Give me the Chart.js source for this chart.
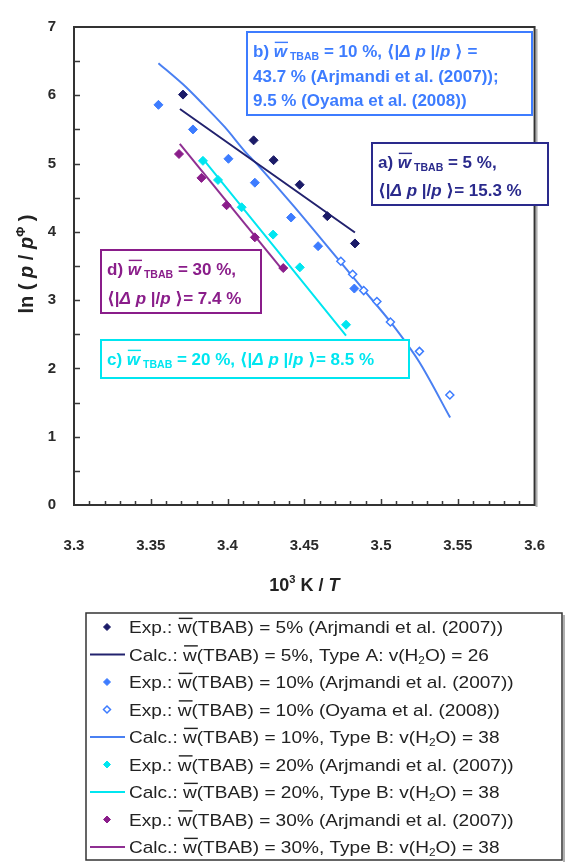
<!DOCTYPE html>
<html>
<head>
<meta charset="utf-8">
<script src="https://cdn.jsdelivr.net/npm/chart.js@4.4.0/dist/chart.umd.min.js"></script>
<style>
html, body { margin: 0; padding: 0; background: #fff; }
#chart { display: block; }
</style>
</head>
<body>
<canvas id="chart" width="577" height="863"></canvas>
<script>
// values: x = 10^3 K / T, y = ln(p / p0)
const exp5X = [3.371, 3.417, 3.430, 3.447, 3.465, 3.483];
const exp5Y = [6.01, 5.34, 5.05, 4.69, 4.23, 3.83];
const calc5X = [3.369, 3.483];
const calc5Y = [5.80, 3.99];

const exp10X = [3.355, 3.3775, 3.4006, 3.4178, 3.4414, 3.459, 3.4826];
const exp10Y = [5.86, 5.50, 5.07, 4.72, 4.21, 3.79, 3.17];
const oya10X = [3.4738, 3.4815, 3.4887, 3.4973, 3.5061, 3.525, 3.5448];
const oya10Y = [3.57, 3.38, 3.14, 2.98, 2.68, 2.25, 1.61];
const calc10X = [3.355, 3.371, 3.384, 3.398, 3.412, 3.4205, 3.443, 3.472, 3.488, 3.5065, 3.525, 3.545];
const calc10Y = [6.47, 6.16, 5.87, 5.54, 5.16, 4.96, 4.38, 3.60, 3.17, 2.67, 2.09, 1.28];

const exp20X = [3.384, 3.3938, 3.4092, 3.4297, 3.4471, 3.4772];
const exp20Y = [5.04, 4.76, 4.36, 3.96, 3.48, 2.64];
const calc20X = [3.384, 3.4772];
const calc20Y = [5.07, 2.48];

const exp30X = [3.3684, 3.383, 3.3994, 3.4178, 3.4363];
const exp30Y = [5.14, 4.79, 4.39, 3.92, 3.47];
const calc30X = [3.3689, 3.4363];
const calc30Y = [5.29, 3.43];

const xTickVals = [3.3, 3.35, 3.4, 3.45, 3.5, 3.55, 3.6];
const xTickLabels = ['3.3', '3.35', '3.4', '3.45', '3.5', '3.55', '3.6'];
const yTickVals = [0, 1, 2, 3, 4, 5, 6, 7];
const yTickLabels = ['0', '1', '2', '3', '4', '5', '6', '7'];

const NAVY = '#1b1b68';
const NAVY_LINE = '#22226e';
const BLUE = '#3d7cff';
const BLUE_LINE = '#4a80f2';
const CYAN = '#00e6f0';
const PURPLE = '#8a1d8a';
const PURPLE_LINE = '#8f2f92';
const FONT = '"Liberation Sans", Arial, "DejaVu Sans", sans-serif';

const mk = (xs, ys) => xs.map((x, i) => ({ x: x, y: ys[i] }));

function expSet(label, xs, ys, color, open) {
    return {
        label: label,
        data: mk(xs, ys),
        showLine: false,
        pointStyle: 'rectRot',
        pointRadius: open ? 4 : 4.5,
        pointHoverRadius: 4.5,
        borderWidth: open ? 1.5 : 1,
        borderColor: color,
        backgroundColor: open ? '#fff' : color,
    };
}

function calcSet(label, xs, ys, color) {
    return {
        label: label,
        data: mk(xs, ys),
        showLine: true,
        pointRadius: 0,
        borderWidth: 2,
        borderColor: color,
        backgroundColor: color,
        tension: 0.3,
    };
}

const datasets = [
    expSet('Exp.: w(TBAB) = 5% (Arjmandi et al. (2007))', exp5X, exp5Y, NAVY),
    calcSet('Calc.: w(TBAB) = 5%, Type A: v(H2O) = 26', calc5X, calc5Y, NAVY_LINE),
    expSet('Exp.: w(TBAB) = 10% (Arjmandi et al. (2007))', exp10X, exp10Y, BLUE),
    expSet('Exp.: w(TBAB) = 10% (Oyama et al. (2008))', oya10X, oya10Y, BLUE, true),
    calcSet('Calc.: w(TBAB) = 10%, Type B: v(H2O) = 38', calc10X, calc10Y, BLUE_LINE),
    expSet('Exp.: w(TBAB) = 20% (Arjmandi et al. (2007))', exp20X, exp20Y, CYAN),
    calcSet('Calc.: w(TBAB) = 20%, Type B: v(H2O) = 38', calc20X, calc20Y, CYAN),
    expSet('Exp.: w(TBAB) = 30% (Arjmandi et al. (2007))', exp30X, exp30Y, PURPLE),
    calcSet('Calc.: w(TBAB) = 30%, Type B: v(H2O) = 38', calc30X, calc30Y, PURPLE_LINE),
];

// text pieces on one row; style words: i, sub, sup, over
function runFont(st, fs, bold) {
    return (st.includes('i') ? 'italic ' : '') + (bold ? 'bold ' : '') + fs + 'px ' + FONT;
}

function runStyle(r, size) {
    const t = typeof r === 'string' ? r : r[0];
    const st = typeof r === 'string' ? [] : r[1].split(' ');
    let fs = size, dy = 0;
    if (st.includes('sub')) { fs = size * 0.62; dy = size * 0.2; }
    if (st.includes('sup')) { fs = size * 0.62; dy = -size * 0.42; }
    return { t, st, fs, dy };
}

function runsWidth(ctx, runs, size, bold, sx) {
    let w = 0;
    ctx.save();
    for (const r of runs) {
        const s = runStyle(r, size);
        ctx.font = runFont(s.st, s.fs, bold);
        w += ctx.measureText(s.t).width;
    }
    ctx.restore();
    return w * (sx || 1);
}

function drawRuns(ctx, runs, x, y, size, color, bold, sx) {
    ctx.save();
    ctx.translate(x, y);
    ctx.scale(sx || 1, 1);
    ctx.textBaseline = 'alphabetic';
    ctx.textAlign = 'left';
    ctx.fillStyle = color;
    ctx.strokeStyle = color;
    let cx = 0;
    for (const r of runs) {
        const s = runStyle(r, size);
        ctx.font = runFont(s.st, s.fs, bold);
        ctx.fillText(s.t, cx, s.dy);
        const w = ctx.measureText(s.t).width;
        if (s.st.includes('over')) {
            ctx.lineWidth = Math.max(1, size / 12);
            ctx.beginPath();
            ctx.moveTo(cx + 1, -size * 0.86);
            ctx.lineTo(cx + w + 1, -size * 0.86);
            ctx.stroke();
        }
        cx += w;
    }
    ctx.restore();
}

function labelRuns(label) {
    const k = label.indexOf('w(');
    const rest = label.slice(k + 1);
    const runs = [label.slice(0, k), ['w', 'over']];
    const h = rest.indexOf('H2O');
    if (h < 0) {
        runs.push(rest);
    } else {
        runs.push(rest.slice(0, h + 1), ['2', 'sub'], rest.slice(h + 2));
    }
    return runs;
}

const wRuns = (pre) => [pre, ['w', 'i over'], [' TBAB', 'sub']];
const dpRuns = ['\u27e8|', ['\u0394 p', 'i'], ' |/', ['p', 'i'], ' \u27e9'];

const boxes = [
    { x: 247, y: 32, w: 285, h: 83, color: BLUE, lines: [
        wRuns('b) ').concat([' = 10 %, '], dpRuns, [' =']),
        ['43.7 % (Arjmandi et al. (2007));'],
        ['9.5 % (Oyama et al. (2008))'] ] },
    { x: 372, y: 143, w: 176, h: 62, color: '#2a2a8c', lines: [
        wRuns('a) ').concat([' = 5 %,']),
        dpRuns.concat(['= 15.3 %']) ] },
    { x: 101, y: 250, w: 160, h: 63, color: PURPLE, lines: [
        wRuns('d) ').concat([' = 30 %,']),
        dpRuns.concat(['= 7.4 %']) ] },
    { x: 101, y: 340, w: 308, h: 38, color: CYAN, lines: [
        wRuns('c) ').concat([' = 20 %, '], dpRuns, ['= 8.5 %']) ] },
];

const xTitle = ['10', ['3', 'sup'], ' K / ', ['T', 'i']];
const yTitle = ['ln ( ', ['p', 'i'], ' / ', ['p', 'i'], ['\u03a6', 'sup'], ' )'];

const decor = {
    id: 'decor',
    beforeDatasetsDraw(chart) {
        const ctx = chart.ctx;
        const a = chart.chartArea;
        const xs = chart.scales.x, ys = chart.scales.y;
        ctx.save();
        ctx.strokeStyle = '#3a3a3a';
        ctx.lineWidth = 1.5;
        ctx.beginPath();
        for (let v = 0.5; v < 7; v += 0.5) {
            const py = Math.round(ys.getPixelForValue(v)) + 0.5;
            ctx.moveTo(a.left, py);
            ctx.lineTo(a.left + 6, py);
        }
        for (let i = 1; i < 30; i++) {
            const px = Math.round(xs.getPixelForValue(3.3 + i * 0.01)) + 0.5;
            ctx.moveTo(px, a.bottom);
            ctx.lineTo(px, a.bottom - (i % 5 === 0 ? 6 : 4));
        }
        ctx.stroke();
        ctx.restore();
    },
    afterDraw(chart) {
        const ctx = chart.ctx;
        const a = chart.chartArea;
        ctx.save();
        // plot frame with slight shade
        ctx.strokeStyle = '#b0b0b0';
        ctx.lineWidth = 2;
        ctx.beginPath();
        ctx.moveTo(a.right + 2, a.top + 2);
        ctx.lineTo(a.right + 2, a.bottom + 2);
        ctx.stroke();
        ctx.strokeStyle = '#333';
        ctx.lineWidth = 2;
        ctx.strokeRect(a.left, a.top, a.right - a.left, a.bottom - a.top);

        // annotation boxes
        for (const b of boxes) {
            ctx.fillStyle = '#fff';
            ctx.fillRect(b.x, b.y, b.w, b.h);
            ctx.strokeStyle = b.color;
            ctx.lineWidth = 2;
            ctx.strokeRect(b.x, b.y, b.w, b.h);
            const step = b.lines.length === 1 ? 0 : (b.h - 34) / (b.lines.length - 1);
            b.lines.forEach((ln, i) => {
                drawRuns(ctx, ln, b.x + 6, b.y + 25 + i * step, 17, b.color, true, 1.0);
            });
        }

        // axis titles
        const cx = chart.scales.x.getPixelForValue(3.45);
        const xw = runsWidth(ctx, xTitle, 18, true, 1);
        drawRuns(ctx, xTitle, cx - xw / 2, 591, 18, '#222', true, 1.0);
        const yw = runsWidth(ctx, yTitle, 20, true, 1);
        ctx.save();
        ctx.translate(33, 264 + yw / 2);
        ctx.rotate(-Math.PI / 2);
        drawRuns(ctx, yTitle, 0, 0, 20, '#222', true, 1.0);
        ctx.restore();

        // legend
        const L = { x: 86, y: 613, w: 476, h: 247 };
        ctx.fillStyle = '#fff';
        ctx.fillRect(L.x, L.y, L.w, L.h);
        ctx.strokeStyle = '#b0b0b0';
        ctx.beginPath();
        ctx.moveTo(L.x + L.w + 2, L.y + 2);
        ctx.lineTo(L.x + L.w + 2, L.y + L.h + 2);
        ctx.stroke();
        ctx.strokeStyle = '#333';
        ctx.lineWidth = 1.5;
        ctx.strokeRect(L.x, L.y, L.w, L.h);
        chart.data.datasets.forEach((ds, i) => {
            const y = 627 + i * 27.5;
            if (ds.showLine) {
                ctx.strokeStyle = ds.borderColor;
                ctx.lineWidth = 2;
                ctx.beginPath();
                ctx.moveTo(90, y);
                ctx.lineTo(125, y);
                ctx.stroke();
            } else {
                ctx.fillStyle = ds.backgroundColor;
                ctx.strokeStyle = ds.borderColor;
                ctx.lineWidth = ds.borderWidth;
                ctx.beginPath();
                ctx.moveTo(103.5, y);
                ctx.lineTo(107, y - 3.5);
                ctx.lineTo(110.5, y);
                ctx.lineTo(107, y + 3.5);
                ctx.closePath();
                ctx.fill();
                ctx.stroke();
            }
            drawRuns(ctx, labelRuns(ds.label), 129, y + 6, 17, '#222', false, 1.12);
        });
        ctx.restore();
    }
};

const config = {
    type: 'scatter',
    data: { datasets: datasets },
    options: {
        responsive: false,
        animation: false,
        devicePixelRatio: 1,
        layout: { padding: { left: 24, right: 15, top: 18, bottom: 0 } },
        scales: {
            x: {
                type: 'linear',
                min: 3.3,
                max: 3.6,
                afterBuildTicks: (s) => { s.ticks = xTickVals.map(v => ({ value: v })); },
                afterFit: (s) => { s.height = 358; },
                grid: { display: false, drawTicks: false },
                border: { display: false },
                ticks: {
                    autoSkip: false,
                    maxRotation: 0,
                    padding: 32,
                    color: '#2a2a2a',
                    font: { family: FONT, size: 15, weight: 'bold' },
                    callback: (v, i) => xTickLabels[i],
                },
            },
            y: {
                type: 'linear',
                min: 0,
                max: 7,
                afterBuildTicks: (s) => { s.ticks = yTickVals.map(v => ({ value: v })); },
                afterFit: (s) => { s.width = 50; },
                grid: { display: false, drawTicks: false },
                border: { display: false },
                ticks: {
                    autoSkip: false,
                    padding: 18,
                    color: '#2a2a2a',
                    font: { family: FONT, size: 15, weight: 'bold' },
                    callback: (v, i) => yTickLabels[i],
                },
            },
        },
        plugins: {
            legend: { display: false },
            tooltip: { enabled: false },
        },
    },
    plugins: [decor],
};

const chart = new Chart(document.getElementById('chart').getContext('2d'), config);
</script>
</body>
</html>
